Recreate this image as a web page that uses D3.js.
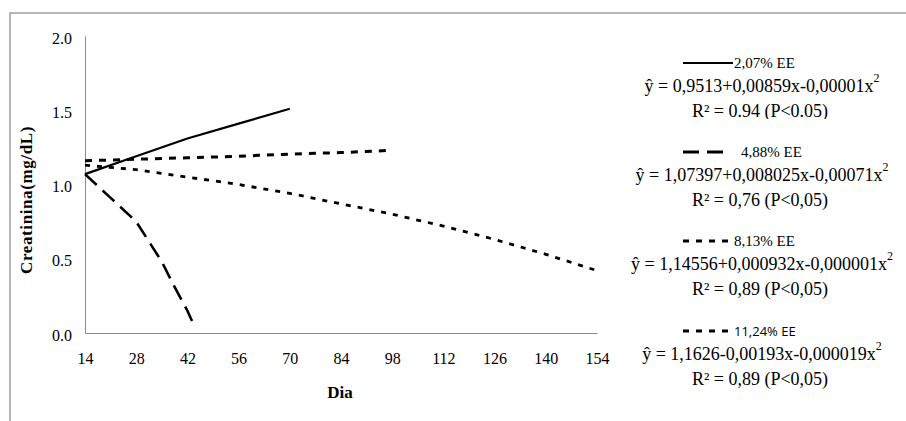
<!DOCTYPE html>
<html><head><meta charset="utf-8">
<script src="https://cdn.jsdelivr.net/npm/d3@7"></script>
<style>body{margin:0;background:#fff} svg{display:block} .serif{font-family:"Liberation Serif","Times New Roman",serif}</style>
</head><body><svg id="c" width="906" height="421"></svg>
<script>
const xTicks = [14, 28, 42, 56, 70, 84, 98, 112, 126, 140, 154];
const yTicks = [0, 0.5, 1.0, 1.5, 2.0];
const seriesNames = ["2,07% EE", "4,88% EE", "8,13% EE", "11,24% EE"];
const days207 = [14, 28, 42, 56, 70];
const vals207 = [1.07, 1.19, 1.31, 1.41, 1.51];
const days488 = [14, 21, 28, 35, 38.5, 42, 44];
const vals488 = [1.07, 0.91, 0.75, 0.48, 0.31, 0.15, 0.04];
const days813 = [14, 28, 42, 56, 70, 84, 98];
const vals813 = [1.16, 1.17, 1.18, 1.19, 1.205, 1.215, 1.23];
const days1124 = [14, 28, 42, 56, 70, 84, 98, 112, 126, 140, 154];
const vals1124 = [1.13, 1.10, 1.05, 1.00, 0.94, 0.87, 0.80, 0.72, 0.63, 0.53, 0.42];
const equations = ["ŷ = 0,9513+0,00859x-0,00001x", "ŷ = 1,07397+0,008025x-0,00071x", "ŷ = 1,14556+0,000932x-0,000001x", "ŷ = 1,1626-0,00193x-0,000019x"];
const r2Texts = ["R² = 0.94 (P<0.05)", "R² = 0,76 (P<0,05)", "R² = 0,89 (P<0,05)", "R² = 0,89 (P<0,05)"];

const svg = d3.select("#c");
const serifFam = '"Liberation Serif","Times New Roman",serif';

svg.append("path").attr("d", "M10,1000 L10,13 L1000,13")
  .attr("fill", "none").attr("stroke", "#a0a0a0").attr("stroke-width", 1.5);

const x = d3.scaleLinear().domain([14, 154]).range([85, 597]);
const y = d3.scaleLinear().domain([0, 2]).range([333, 36]);

const xAxis = svg.append("g").attr("transform", "translate(0,333)")
  .call(d3.axisBottom(x).tickValues(xTicks).tickSize(0).tickPadding(20).tickFormat(d3.format("d")));
const yAxis = svg.append("g").attr("transform", "translate(85,0)")
  .call(d3.axisLeft(y).tickValues(yTicks).tickSize(0).tickPadding(13).tickFormat(d3.format(".1f")));
[xAxis, yAxis].forEach(a => {
  a.attr("font-family", null).attr("font-size", null);
  a.select(".domain").attr("stroke", "#8c8c8c").attr("stroke-width", 1);
  a.selectAll("text").style("font-family", serifFam).style("font-size", "16px").attr("fill", "#000");
});
yAxis.selectAll("text").attr("dy", "0.45em");

svg.append("text").attr("x", 340).attr("y", 398).attr("text-anchor", "middle")
  .style("font-family", serifFam).attr("font-weight", "bold").style("font-size", "17px").text("Dia");
svg.append("text").attr("transform", "translate(32,200) rotate(-90)").attr("text-anchor", "middle")
  .style("font-family", serifFam).attr("font-weight", "bold").style("font-size", "17px")
  .attr("letter-spacing", 0.6).text("Creatinina(mg/dL)");

const styles = [
  {dash: null, w: 2.2, legDash: null},
  {dash: "16,8", w: 2.6, legDash: "16,8"},
  {dash: "7,7", w: 3, legDash: "6,7"},
  {dash: "5,7", w: 2.8, legDash: "6,7"}
];
const data = [
  d3.zip(days207, vals207), d3.zip(days488, vals488),
  d3.zip(days813, vals813), d3.zip(days1124, vals1124)
];
const line = d3.line().x(d => x(d[0])).y(d => y(d[1]));
data.forEach((pts, i) => {
  svg.append("path").attr("d", line(pts)).attr("fill", "none").attr("stroke", "#000")
    .attr("stroke-width", styles[i].w).attr("stroke-dasharray", styles[i].dash);
});

svg.append("clipPath").attr("id", "clipR2").append("rect")
  .attr("x", 600).attr("y", 0).attr("width", 306).attr("height", 63 + 56);

const legTop = [63, 152, 241, 331];
seriesNames.forEach((name, i) => {
  const ly = legTop[i];
  svg.append("line").attr("x1", 683).attr("x2", i === 1 ? 729 : 733).attr("y1", ly).attr("y2", ly)
    .attr("stroke", "#000").attr("stroke-width", i === 0 ? 2.2 : 3)
    .attr("stroke-dasharray", styles[i].legDash);
  svg.append("text").attr("x", i === 1 ? 741 : 734).attr("y", ly + 5)
    .style("font-family", i === 3 ? "'Open Sans','Liberation Sans',sans-serif" : serifFam)
    .style("font-size", i === 3 ? "13px" : "15px").text(name);
  const eq = svg.append("text").attr("x", 762).attr("y", ly + 29).attr("text-anchor", "middle")
    .style("font-family", serifFam).style("font-size", "18px");
  eq.append("tspan").text(equations[i]);
  eq.append("tspan").attr("dy", -10).style("font-size", "12px").text("2");
  const r2 = svg.append("text").attr("x", 760).attr("y", ly + 54).attr("text-anchor", "middle")
    .style("font-family", serifFam).style("font-size", "18px").text(r2Texts[i]);
  if (i === 0) r2.attr("clip-path", "url(#clipR2)");
});
</script></body></html>
